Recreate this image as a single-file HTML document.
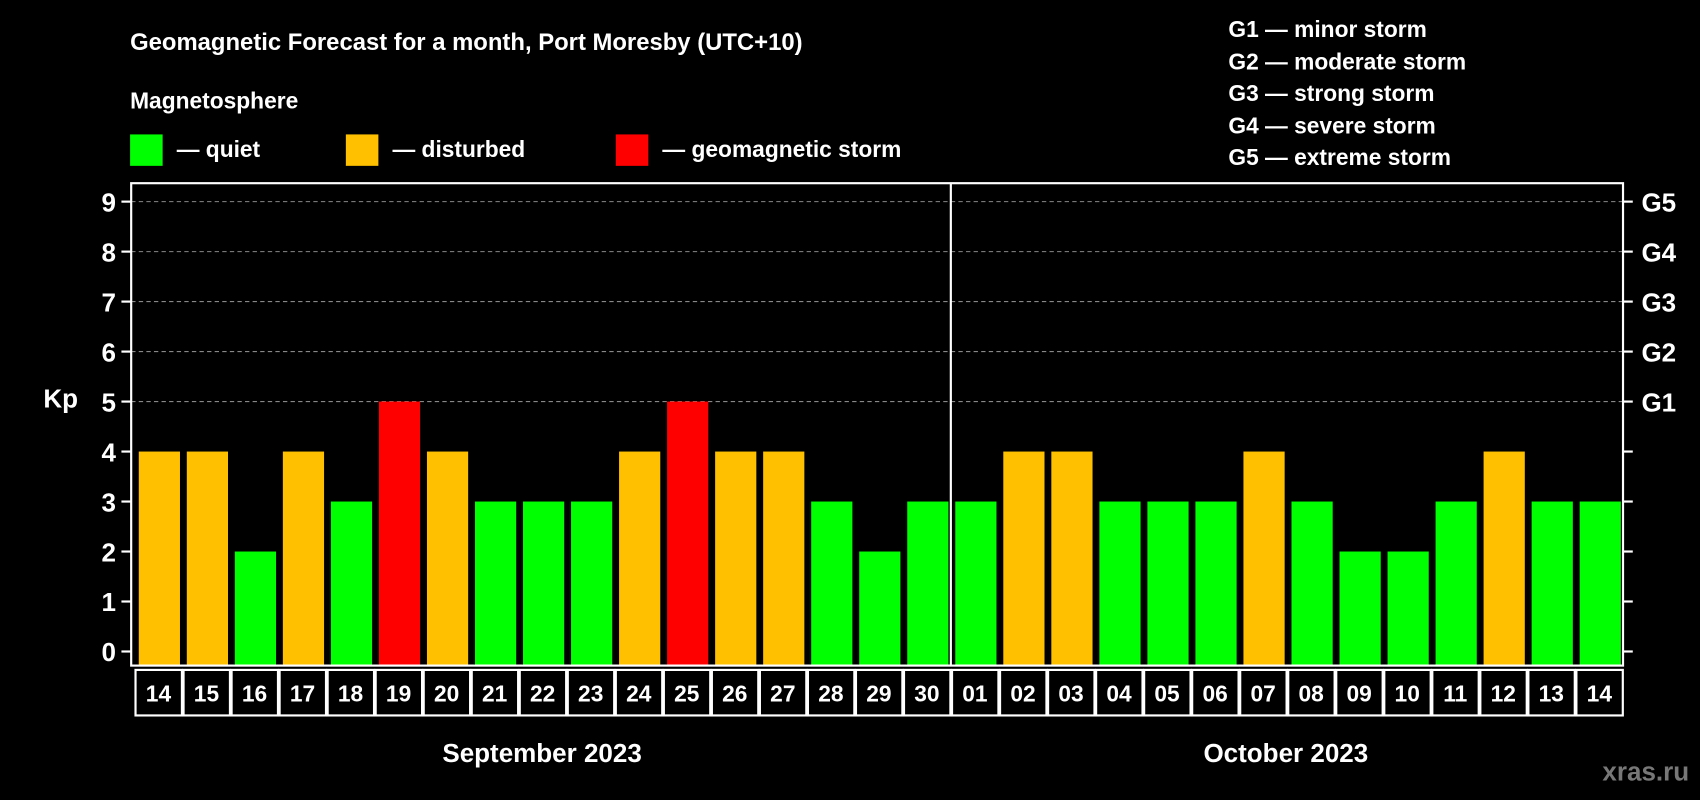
<!DOCTYPE html>
<html><head><meta charset="utf-8"><style>
html,body{margin:0;padding:0;background:#000;width:1700px;height:800px;overflow:hidden}
svg{display:block}
text{font-family:"Liberation Sans",Arial,sans-serif;font-weight:bold;fill:#fff}
</style></head><body>
<svg id="chart" width="1700" height="800" viewBox="0 0 1568 738" preserveAspectRatio="none" xmlns="http://www.w3.org/2000/svg">
<rect x="0" y="0" width="1568" height="738" fill="#000"/>
<text x="120" y="46" font-size="22">Geomagnetic Forecast for a month, Port Moresby (UTC+10)</text>
<text x="120" y="100" font-size="21">Magnetosphere</text>
<rect x="120" y="124" width="30" height="29" fill="#00ff00"/>
<text x="163" y="145" font-size="21">— quiet</text>
<rect x="319" y="124" width="30" height="29" fill="#ffc000"/>
<text x="362" y="145" font-size="21">— disturbed</text>
<rect x="568" y="124" width="30" height="29" fill="#ff0000"/>
<text x="611" y="145" font-size="21">— geomagnetic storm</text>
<g font-size="21">
<text x="1133" y="34">G1 — minor storm</text>
<text x="1133" y="64">G2 — moderate storm</text>
<text x="1133" y="93">G3 — strong storm</text>
<text x="1133" y="123">G4 — severe storm</text>
<text x="1133" y="152">G5 — extreme storm</text>
</g>
<text x="40" y="376" font-size="24">Kp</text>
<g id="grid"></g>
<g id="bars"></g>
<rect x="121" y="169" width="1376" height="445" fill="none" stroke="#fff" stroke-width="2"/>
<line x1="877" y1="169" x2="877" y2="614" stroke="#fff" stroke-width="2"/>
<g id="axes"></g>
<g id="dates"></g>
<text x="500" y="703" font-size="24" text-anchor="middle">September 2023</text>
<text x="1186" y="703" font-size="24" text-anchor="middle">October 2023</text>
<text x="1558" y="720" font-size="24" text-anchor="end" style="fill:#777">xras.ru</text>
</svg>
<script>
const days = ["14","15","16","17","18","19","20","21","22","23","24","25","26","27","28","29","30","01","02","03","04","05","06","07","08","09","10","11","12","13","14"];
const kpValues = [4,4,2,4,3,5,4,3,3,3,4,5,4,4,3,2,3,3,4,4,3,3,3,4,3,2,2,3,4,3,3];
const yTicks = [0,1,2,3,4,5,6,7,8,9];
const gLabels = ["G1","G2","G3","G4","G5"];
const NS = "http://www.w3.org/2000/svg";
const x0 = 124, pitch = 44.3, barW = 38;
function yScale(v){ return 601 - v * (601 - 186) / 9; }
function xScale(i){ return x0 + i * pitch; }
function colorFor(v){ return v >= 5 ? "#ff0000" : (v >= 4 ? "#ffc000" : "#00ff00"); }
function mk(tag, attrs){ const e = document.createElementNS(NS, tag); for (const k in attrs) e.setAttribute(k, attrs[k]); return e; }
const grid = document.getElementById("grid"), bars = document.getElementById("bars"), axes = document.getElementById("axes"), dates = document.getElementById("dates");
yTicks.forEach(function(t){
  const y = yScale(t);
  if (t >= 5) {
    const g = mk("line", {x1:121, x2:1497, y1:y, y2:y, stroke:"#888", "stroke-width":1, "stroke-dasharray":"4,3"});
    
    
    grid.appendChild(g);
    const gl = mk("text", {x:1514, y:y + 9, "font-size":24});
    gl.textContent = gLabels[t - 5];
    
    
    axes.appendChild(gl);
  }
  const lt = mk("line", {x1:112, x2:121, y1:y, y2:y, stroke:"#fff", "stroke-width":2});
  
  
  axes.appendChild(lt);
  const rt = mk("line", {x1:1497, x2:1506, y1:y, y2:y, stroke:"#fff", "stroke-width":2});
  
  
  axes.appendChild(rt);
  const tl = mk("text", {x:107, y:y + 9, "font-size":24, "text-anchor":"end"});
  tl.textContent = t;
  
  
  axes.appendChild(tl);
});
kpValues.forEach(function(v, i){
  const x = xScale(i);
  const b = mk("rect", {x:x + 4, y:yScale(v), width:barW, height:614 - yScale(v), fill:colorFor(v)});
  
  
  bars.appendChild(b);
  const c = mk("rect", {x:x + 1, y:618, width:pitch - 1.5, height:42, fill:"#000", stroke:"#fff", "stroke-width":2});
  
  
  dates.appendChild(c);
  const dt = mk("text", {x:x + pitch / 2, y:647, "font-size":21, "text-anchor":"middle"});
  dt.textContent = days[i];
  
  
  dates.appendChild(dt);
});
</script>
</body></html>
